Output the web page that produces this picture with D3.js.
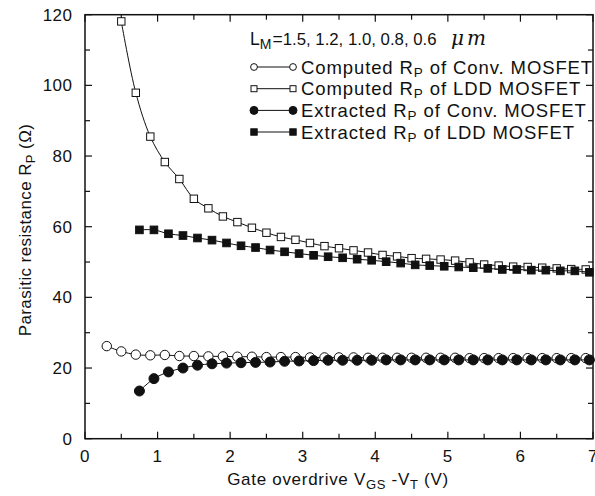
<!DOCTYPE html>
<html lang="en">
<head>
<meta charset="utf-8">
<script src="https://cdn.jsdelivr.net/npm/d3@7"></script>
<style>
  body { margin: 0; background: #fff; }
  text { font-family: "Liberation Sans", Arial, sans-serif; fill: #111; }
</style>
</head>
<body>
<div id="chart"></div>
<script>
// data
var xCompConv = [0.3, 0.5, 0.7, 0.9, 1.1, 1.3, 1.5, 1.7, 1.9, 2.1, 2.3, 2.5, 2.7, 2.9, 3.1, 3.3, 3.5,
                 3.7, 3.9, 4.1, 4.3, 4.5, 4.7, 4.9, 5.1, 5.3, 5.5, 5.7, 5.9, 6.1, 6.3, 6.5, 6.7, 6.9];
var yCompConv = [26.2, 24.7, 23.8, 23.6, 23.7, 23.4, 23.4, 23.3, 23.3, 23.2, 23.2, 23.1, 23.1, 23.1, 23.0, 23.0, 23.0,
                 23.0, 22.9, 22.9, 22.9, 22.9, 22.9, 22.9, 22.9, 22.8, 22.8, 22.8, 22.8, 22.8, 22.8, 22.8, 22.8, 22.8];

var xCompLdd = [0.5, 0.7, 0.9, 1.1, 1.3, 1.5, 1.7, 1.9, 2.1, 2.3, 2.5, 2.7, 2.9, 3.1, 3.3, 3.5, 3.7,
                3.9, 4.1, 4.3, 4.5, 4.7, 4.9, 5.1, 5.3, 5.5, 5.7, 5.9, 6.1, 6.3, 6.5, 6.7, 6.9];
var yCompLdd = [118.1, 97.9, 85.5, 78.3, 73.5, 67.9, 65.2, 62.9, 61.3, 59.7, 58.3, 57.1, 56.3, 55.4, 54.5, 53.9, 53.3,
                52.7, 52.0, 51.6, 51.1, 50.9, 50.7, 50.4, 49.9, 49.3, 49.0, 48.7, 48.6, 48.4, 48.2, 48.0, 47.9];

var xExt = [0.75, 0.95, 1.15, 1.35, 1.55, 1.75, 1.95, 2.15, 2.35, 2.55, 2.75, 2.95, 3.15, 3.35, 3.55, 3.75,
            3.95, 4.15, 4.35, 4.55, 4.75, 4.95, 5.15, 5.35, 5.55, 5.75, 5.95, 6.15, 6.35, 6.55, 6.75, 6.95];
var yExtConv = [13.5, 17.0, 18.9, 20.0, 20.8, 21.2, 21.4, 21.5, 21.6, 21.7, 21.9, 22.0, 22.1, 22.2, 22.2, 22.2,
                22.2, 22.3, 22.3, 22.3, 22.3, 22.3, 22.3, 22.3, 22.3, 22.3, 22.3, 22.3, 22.3, 22.3, 22.3, 22.3];
var yExtLdd = [59.1, 59.1, 58.0, 57.5, 56.8, 56.2, 55.4, 54.6, 54.1, 53.4, 52.9, 52.4, 51.9, 51.5, 51.2, 50.8,
               50.5, 50.1, 49.7, 49.2, 49.0, 48.8, 48.6, 48.4, 48.2, 47.9, 47.9, 47.7, 47.7, 47.5, 47.5, 47.1];

var xTicks = [0, 1, 2, 3, 4, 5, 6, 7];
var yTicks = [0, 20, 40, 60, 80, 100, 120];
var legendLabels = ["Conv. MOSFET", "LDD MOSFET", "Conv. MOSFET", "LDD MOSFET"];
var legendPrefix = ["Computed", "Computed", "Extracted", "Extracted"];

var width = 595, height = 496;

var x = d3.scaleLinear().domain([0, 7]).range([85, 593]);
var y = d3.scaleLinear().domain([0, 120]).range([438.7, 14.7]);

var svg = d3.select("#chart").append("svg")
    .attr("width", width)
    .attr("height", height);

function zip(xs, ys) { return xs.map(function(v, i) { return [v, ys[i]]; }); }

var series = [
  { pts: zip(xCompConv, yCompConv), shape: "circle", fill: "#fff", r: 4.7, lr: 3.4 },
  { pts: zip(xCompLdd, yCompLdd), shape: "square", fill: "#fff", r: 3.7, lr: 3 },
  { pts: zip(xExt, yExtConv), shape: "circle", fill: "#111", r: 5, lr: 4 },
  { pts: zip(xExt, yExtLdd), shape: "square", fill: "#111", r: 3.8, lr: 3.2 }
];

var line = d3.line()
    .x(function(d) { return x(d[0]); })
    .y(function(d) { return y(d[1]); })
    .curve(d3.curveCatmullRom);

// frame
svg.append("rect")
    .attr("x", x(0)).attr("y", y(120))
    .attr("width", x(7) - x(0)).attr("height", y(0) - y(120))
    .attr("fill", "none").attr("stroke", "#111").attr("stroke-width", 1.5);

// ticks, inward on all four sides
var xMinor = d3.range(0.5, 7, 1);
var yMinor = d3.range(10, 120, 20);
var ticks = svg.append("g").attr("stroke", "#111").attr("stroke-width", 1.2);
xTicks.concat(xMinor).forEach(function(v) {
  var len = xTicks.indexOf(v) >= 0 ? 7 : 5;
  ticks.append("line").attr("x1", x(v)).attr("x2", x(v)).attr("y1", y(0)).attr("y2", y(0) - len);
  ticks.append("line").attr("x1", x(v)).attr("x2", x(v)).attr("y1", y(120)).attr("y2", y(120) + len);
});
yTicks.concat(yMinor).forEach(function(v) {
  var len = yTicks.indexOf(v) >= 0 ? 7 : 5;
  ticks.append("line").attr("y1", y(v)).attr("y2", y(v)).attr("x1", x(0)).attr("x2", x(0) + len);
  ticks.append("line").attr("y1", y(v)).attr("y2", y(v)).attr("x1", x(7)).attr("x2", x(7) - len);
});

// tick labels
svg.selectAll(".xt").data(xTicks).enter().append("text")
    .attr("x", function(d) { return x(d); })
    .attr("y", 462)
    .attr("text-anchor", "middle")
    .style("font-size", "17px")
    .style("letter-spacing", "0.5px")
    .text(function(d) { return d; });

svg.selectAll(".yt").data(yTicks).enter().append("text")
    .attr("x", 72.5)
    .attr("y", function(d) { return y(d) + 6; })
    .attr("text-anchor", "end")
    .style("font-size", "17px")
    .style("letter-spacing", "0.5px")
    .text(function(d) { return d; });

// axis titles
var xt = svg.append("text").attr("x", 338).attr("y", 485)
    .attr("text-anchor", "middle").style("font-size", "17px").style("letter-spacing", "0.7px");
xt.append("tspan").text("Gate overdrive V");
xt.append("tspan").attr("dy", 4).style("font-size", "13px").text("GS");
xt.append("tspan").attr("dy", -4).text(" -V");
xt.append("tspan").attr("dy", 4).style("font-size", "13px").text("T");
xt.append("tspan").attr("dy", -4).text(" (V)");

var yt = svg.append("text")
    .attr("transform", "translate(31,230) rotate(-90)")
    .attr("text-anchor", "middle").style("font-size", "17px").style("letter-spacing", "0.4px");
yt.append("tspan").text("Parasitic resistance R");
yt.append("tspan").attr("dy", 4).style("font-size", "13px").text("P");
yt.append("tspan").attr("dy", -4).text(" (\u03A9)");

// curves and markers
function drawMarker(g, shape, cx, cy, size, fill) {
  if (shape === "circle") {
    g.append("circle").attr("cx", cx).attr("cy", cy).attr("r", size)
      .attr("fill", fill).attr("stroke", "#111").attr("stroke-width", 1);
  } else {
    g.append("rect").attr("x", cx - size).attr("y", cy - size)
      .attr("width", size * 2).attr("height", size * 2)
      .attr("fill", fill).attr("stroke", "#111").attr("stroke-width", 1);
  }
}

series.forEach(function(s) {
  svg.append("path").datum(s.pts)
    .attr("d", line).attr("fill", "none")
    .attr("stroke", "#111").attr("stroke-width", 1);
  var g = svg.append("g");
  s.pts.forEach(function(p) {
    drawMarker(g, s.shape, x(p[0]), y(p[1]), s.r, s.fill);
  });
});

// legend
var lg = svg.append("g");
var head = lg.append("text").attr("x", 250).attr("y", 45).style("font-size", "17.5px");
head.append("tspan").text("L");
head.append("tspan").attr("dy", 4).style("font-size", "14px").text("M");
head.append("tspan").attr("dy", -4).attr("dx", 1).text("=");
head.append("tspan").style("font-size", "16.8px").text("1.5, 1.2, 1.0, 0.8, 0.6");
head.append("tspan").attr("x", 451)
    .style("font-family", "'DejaVu Serif', 'Liberation Serif', serif")
    .style("font-style", "italic").style("font-size", "20px").text("\u03BC");
head.append("tspan").attr("x", 467)
    .style("font-family", "'DejaVu Serif', 'Liberation Serif', serif")
    .style("font-style", "italic").style("font-size", "20px").text("m");

var rowY = [67, 88.7, 110.4, 132];
series.forEach(function(s, i) {
  var ry = rowY[i];
  lg.append("line").attr("x1", 254).attr("x2", 293).attr("y1", ry).attr("y2", ry)
    .attr("stroke", "#111").attr("stroke-width", 1);
  drawMarker(lg, s.shape, 254, ry, s.lr, s.fill);
  drawMarker(lg, s.shape, 293, ry, s.lr, s.fill);
  var t = lg.append("text").attr("x", 301).attr("y", ry + 6.5).style("font-size", "18.5px").style("letter-spacing", "0.9px");
  t.append("tspan").text(legendPrefix[i] + " R");
  t.append("tspan").attr("dy", 3).style("font-size", "13.5px").text("P");
  t.append("tspan").attr("dy", -3).text(" of " + legendLabels[i]);
});
</script>
</body>
</html>
